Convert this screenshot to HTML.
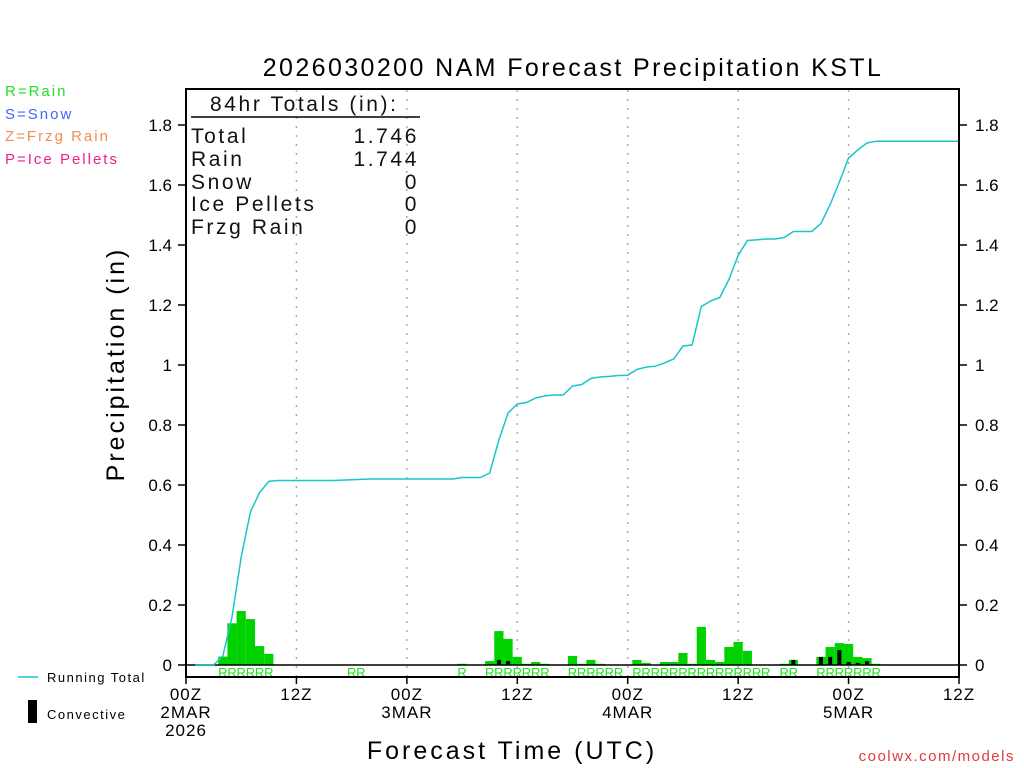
<!DOCTYPE html>
<html><head><meta charset="utf-8"><style>
body{margin:0;background:#fff;width:1024px;height:768px;overflow:hidden}
svg{display:block;font-family:"Liberation Sans",sans-serif}
</style></head><body>
<svg id="chart" width="1024" height="768" viewBox="0 0 1024 768" xmlns="http://www.w3.org/2000/svg">
<text x="573" y="76" font-size="25" text-anchor="middle" fill="#000" letter-spacing="2.4">2026030200 NAM Forecast Precipitation KSTL</text>
<g font-size="15" letter-spacing="2">
<text x="5" y="96" fill="#22e022">R=Rain</text>
<text x="5" y="119" fill="#4466ff">S=Snow</text>
<text x="5" y="141" fill="#f09050">Z=Frzg Rain</text>
<text x="5" y="164" fill="#f0208a">P=Ice Pellets</text>
</g>
<g id="grid"></g>
<g id="bars"></g>
<g id="labels"></g>
<line x1="186" y1="665" x2="959" y2="665" stroke="#000" stroke-width="1.5"/>
<polyline id="total" fill="none" stroke="#1cc4cc" stroke-width="1.5"/>
<rect x="186" y="89" width="773" height="588" fill="none" stroke="#000" stroke-width="2"/>
<g id="axes" font-size="17" fill="#000"></g>
<g font-size="21" fill="#111" letter-spacing="2.6">
<text x="210" y="111">84hr Totals (in):</text>
<line x1="191" y1="117" x2="420" y2="117" stroke="#000" stroke-width="1.5"/>
<text x="191" y="143">Total</text><text x="419" y="143" text-anchor="end">1.746</text>
<text x="191" y="166">Rain</text><text x="419" y="166" text-anchor="end">1.744</text>
<text x="191" y="189">Snow</text><text x="419" y="189" text-anchor="end">0</text>
<text x="191" y="211">Ice Pellets</text><text x="419" y="211" text-anchor="end">0</text>
<text x="191" y="234">Frzg Rain</text><text x="419" y="234" text-anchor="end">0</text>
</g>
<text transform="translate(124,364) rotate(-90)" font-size="25" text-anchor="middle" letter-spacing="3">Precipitation (in)</text>
<text x="512" y="759" font-size="25" text-anchor="middle" letter-spacing="3">Forecast Time (UTC)</text>
<g font-size="13" letter-spacing="1.5">
<line x1="18" y1="677" x2="38" y2="677" stroke="#1cc4cc" stroke-width="1.5"/>
<text x="47" y="682">Running Total</text>
<rect x="28" y="700" width="9" height="23" fill="#000"/>
<text x="47" y="719">Convective</text>
</g>
<text x="1015" y="761" font-size="15" text-anchor="end" fill="#e03a3a" letter-spacing="1.5">coolwx.com/models</text>
</svg>
<script>
const barHours=[4,5,6,7,8,9,18,19,30,33,34,35,36,37,38,39,42,43,44,45,46,47,49,50,51,52,53,54,55,56,57,58,59,60,61,62,63,65,66,69,70,71,72,73,74,75];
const barValues=[0.028,0.139,0.18,0.153,0.063,0.037,0.001,0.001,0.004,0.013,0.113,0.087,0.027,0.004,0.01,0.004,0.03,0.004,0.017,0.004,0.001,0.001,0.017,0.007,0.001,0.01,0.01,0.04,0.004,0.127,0.017,0.01,0.06,0.077,0.047,0.001,0.001,0.004,0.017,0.027,0.06,0.073,0.07,0.027,0.023,0.004];
const convHours=[34,35,66,69,70,71,72,73,74];
const convValues=[0.017,0.013,0.017,0.027,0.027,0.05,0.01,0.007,0.013];
const totalHours=[1,3,4,5,6,7,8,9,10,16,20,29,30,32,33,34,35,36,37,38,39,40,41,42,43,44,45,46,47,48,49,50,51,52,53,54,55,56,57,58,59,60,61,62,63,64,65,66,67,68,69,70,71,72,73,74,75,84];
const totalValues=[0,0,0.03,0.16,0.36,0.51,0.575,0.612,0.615,0.615,0.62,0.62,0.625,0.625,0.64,0.75,0.84,0.87,0.875,0.89,0.897,0.9,0.9,0.93,0.935,0.955,0.96,0.962,0.965,0.966,0.985,0.993,0.996,1.007,1.02,1.063,1.067,1.195,1.213,1.225,1.285,1.365,1.415,1.417,1.42,1.42,1.425,1.445,1.445,1.445,1.472,1.535,1.61,1.69,1.717,1.74,1.746,1.746];
const yTicks=[0,0.2,0.4,0.6,0.8,1,1.2,1.4,1.6,1.8];
const xTickHours=[0,12,24,36,48,60,72,84];
const xTickLabels=[["00Z","2MAR","2026"],["12Z"],["00Z","3MAR"],["12Z"],["00Z","4MAR"],["12Z"],["00Z","5MAR"],["12Z"]];
const ns="http://www.w3.org/2000/svg";
const X=h=>186+h*773/84, Y=v=>665-v*300;
function mk(t,a,p){const e=document.createElementNS(ns,t);for(const k in a)e.setAttribute(k,a[k]);p.appendChild(e);return e;}
const grid=document.getElementById('grid'),bars=document.getElementById('bars'),labels=document.getElementById('labels'),axes=document.getElementById('axes');
xTickHours.forEach((h,i)=>{
  if(h>0&&h<84){const g=mk('line',{x1:X(h),y1:90,x2:X(h),y2:676,stroke:'#aaa','stroke-width':1.5,'stroke-dasharray':'2,7'},grid);
  
  }
  const t=mk('line',{x1:X(h),y1:677,x2:X(h),y2:684,stroke:'#000','stroke-width':1.5},axes);
  
  
  xTickLabels[i].forEach((s,j)=>{const tx=mk('text',{x:X(h),y:700+j*18,'text-anchor':'middle','letter-spacing':1},axes);tx.textContent=s;
  
  });
});
yTicks.forEach(v=>{
  [[178,186,172,'end'],[959,967,975,'start']].forEach(([a,b,tx,an])=>{
    const l=mk('line',{x1:a,y1:Y(v),x2:b,y2:Y(v),stroke:'#000','stroke-width':1.5},axes);
    
    
    const t=mk('text',{x:tx,y:Y(v)+6,'text-anchor':an},axes);t.textContent=String(v);
    
    
  });
});
const bw=773/84;
barHours.forEach((h,i)=>{
  const r=mk('rect',{x:X(h)-bw/2,y:Y(barValues[i]),width:bw,height:Math.max(665-Y(barValues[i]),0.8),fill:'#00d200'},bars);
  
  
  const t=mk('text',{x:X(h),y:677,'text-anchor':'middle','font-size':13,fill:'#22e022'},labels);t.textContent='R';
  
  
});
convHours.forEach((h,i)=>{
  const r=mk('rect',{x:X(h)-2,y:Y(convValues[i]),width:4,height:665-Y(convValues[i]),fill:'#000'},bars);
  
  
});
document.getElementById('total').setAttribute('points',totalHours.map((h,i)=>X(h)+','+Y(totalValues[i])).join(' '));
</script>
</body></html>
